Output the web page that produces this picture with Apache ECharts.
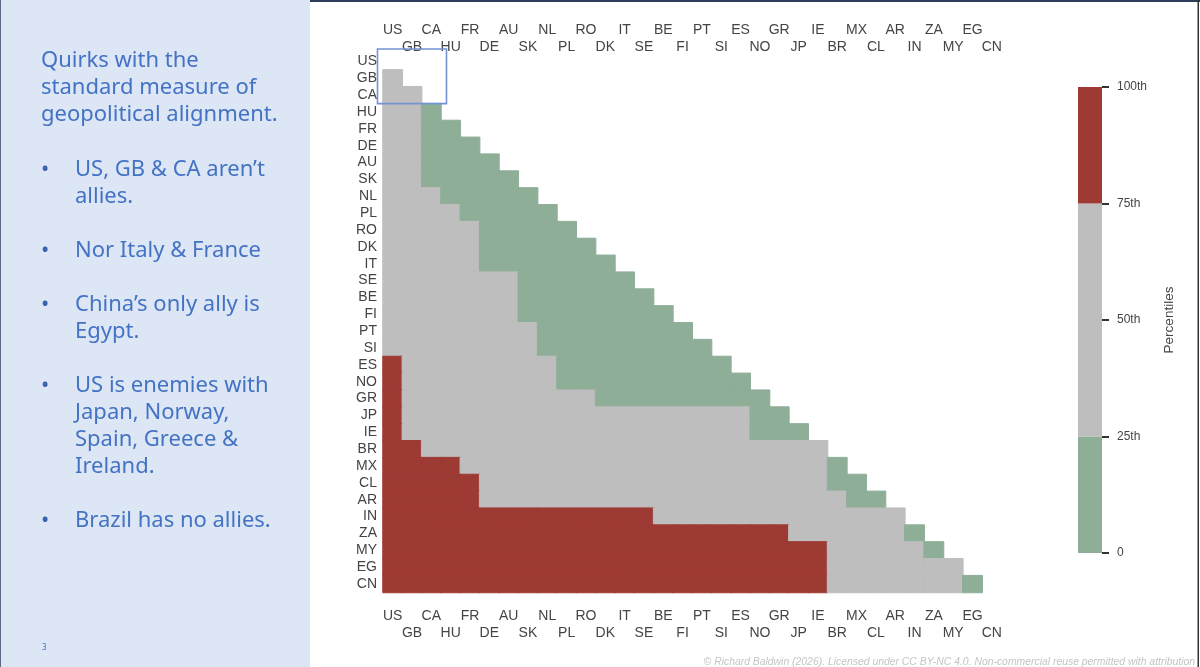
<!DOCTYPE html>
<html>
<head>
<meta charset="utf-8">
<script src="https://cdn.jsdelivr.net/npm/echarts@6/dist/echarts.min.js"></script>
<style>
  html, body { margin: 0; padding: 0; background: #ffffff; }
  #chart { width: 1200px; height: 667px; }
</style>
</head>
<body>
<div id="chart"></div>
<script>
// ---- DATA ----
const countries = ['US','GB','CA','HU','FR','DE','AU','SK','NL','PL','RO','DK','IT','SE','BE','FI',
                   'PT','SI','ES','NO','GR','JP','IE','BR','MX','CL','AR','IN','ZA','MY','EG','CN'];

// Percentile class per cell, row by row (lower triangle), as runs of [class, count]
// L = 0–25th (allies), M = 25–75th, H = 75–100th (adversaries)
const rowRuns = [
  [],                                   // US
  [['M',1]],                            // GB
  [['M',2]],                            // CA
  [['M',2],['L',1]],                    // HU
  [['M',2],['L',2]],                    // FR
  [['M',2],['L',3]],                    // DE
  [['M',2],['L',4]],                    // AU
  [['M',2],['L',5]],                    // SK
  [['M',3],['L',5]],                    // NL
  [['M',4],['L',5]],                    // PL
  [['M',5],['L',5]],                    // RO
  [['M',5],['L',6]],                    // DK
  [['M',5],['L',7]],                    // IT
  [['M',7],['L',6]],                    // SE
  [['M',7],['L',7]],                    // BE
  [['M',7],['L',8]],                    // FI
  [['M',8],['L',8]],                    // PT
  [['M',8],['L',9]],                    // SI
  [['H',1],['M',8],['L',9]],            // ES
  [['H',1],['M',8],['L',10]],           // NO
  [['H',1],['M',10],['L',9]],           // GR
  [['H',1],['M',18],['L',2]],           // JP
  [['H',1],['M',18],['L',3]],           // IE
  [['H',2],['M',21]],                   // BR
  [['H',4],['M',19],['L',1]],           // MX
  [['H',5],['M',18],['L',2]],           // CL
  [['H',5],['M',19],['L',2]],           // AR
  [['H',14],['M',13]],                  // IN
  [['H',21],['M',6],['L',1]],           // ZA
  [['H',23],['M',5],['L',1]],           // MY
  [['H',23],['M',7]],                   // EG
  [['H',23],['M',7],['L',1]]            // CN
];

const classOrder = ['L','M','H'];
const bandLow  = [0, 25, 75];
const bandHigh = [25, 75, 100];
const bandColors = ['#8fae98', '#bebebe', '#9e3a34'];
const legendTicks = [0, 25, 50, 75, 100];

const highlightGroup = ['US','GB','CA'];

const slideTitle = ['Quirks with the', 'standard measure of', 'geopolitical alignment.'];
const slideNotes = [
  ["US, GB & CA aren\u2019t", 'allies.'],
  ['Nor Italy & France'],
  ["China\u2019s only ally is", 'Egypt.'],
  ['US is enemies with', 'Japan, Norway,', 'Spain, Greece &', 'Ireland.'],
  ['Brazil has no allies.']
];
const pageNumber = '3';
const footerText = '\u00A9 Richard Baldwin (2026). Licensed under CC BY-NC 4.0. Non-commercial reuse permitted with attribution';

// ---- BUILD ----
const cells = [];
rowRuns.forEach((runs, r) => {
  let c = 0;
  runs.forEach(([cls, n]) => {
    const k = classOrder.indexOf(cls);
    for (let j = 0; j < n; j++) {
      cells.push({ value: [c, r, k], itemStyle: { borderColor: bandColors[k], borderWidth: 1 } });
      c++;
    }
  });
});

const textBlue = '#4472c4';
const slideFont = '"Noto Sans", "Open Sans", sans-serif';
const graphics = [
  { type: 'rect', shape: { x: 0, y: 0, width: 310, height: 667 }, style: { fill: '#dce6f4' }, z: 0 },
  { type: 'rect', shape: { x: 310, y: 0, width: 890, height: 2 }, style: { fill: '#2e3d5c' }, z: 0 },
  { type: 'rect', shape: { x: 0, y: 0, width: 1, height: 667 }, style: { fill: '#5a6a86' }, z: 0 },
  { type: 'rect', shape: { x: 1197.5, y: 0, width: 1.5, height: 667 }, style: { fill: '#333333' }, z: 0 }
];
const lineH = 27;
const bodyFont = '22px ' + slideFont;
slideTitle.forEach((t, i) => {
  graphics.push({ type: 'text', x: 41, y: 61 + i * lineH,
    style: { text: t, fill: textBlue, font: bodyFont, verticalAlign: 'middle', align: 'left' } });
});
let yy = 61 + (slideTitle.length - 1) * lineH + 55;
slideNotes.forEach((lines) => {
  graphics.push({ type: 'text', x: 41, y: yy,
    style: { text: '\u2022', fill: '#3d62b0', font: '22px ' + slideFont, verticalAlign: 'middle', align: 'left' } });
  lines.forEach((t, i) => {
    graphics.push({ type: 'text', x: 75, y: yy + i * lineH,
      style: { text: t, fill: textBlue, font: bodyFont, verticalAlign: 'middle', align: 'left' } });
  });
  yy += (lines.length - 1) * lineH + 54;
});
graphics.push({ type: 'text', x: 42, y: 648,
  style: { text: pageNumber, fill: textBlue, font: '8px ' + slideFont, verticalAlign: 'middle' } });
graphics.push({ type: 'text', x: 1195, y: 662,
  style: { text: footerText, fill: '#c4c4c4', font: 'italic 10.4px "Liberation Sans", Arial, sans-serif', verticalAlign: 'middle', align: 'right' } });

const labelStyle = {
  color: '#444', fontSize: 14, fontFamily: '"Liberation Sans", Arial, sans-serif'
};
const staggerFormatter = (v, i) => (i % 2 === 0 ? v + '\n ' : ' \n' + v);

const chart = echarts.init(document.getElementById('chart'), null, { renderer: 'canvas' });
const option = {
  backgroundColor: '#ffffff',
  animation: false,
  grid: [
    { left: 383, top: 53, right: 198.5, bottom: 74.5, containLabel: false },
    { left: 1078, top: 87, width: 24, height: 466, containLabel: false }
  ],
  xAxis: [
    { type: 'category', gridIndex: 0, data: countries, position: 'top',
      axisLine: { show: false }, axisTick: { show: false }, splitLine: { show: false },
      axisLabel: Object.assign({ interval: 0, formatter: staggerFormatter, lineHeight: 17,
        verticalAlign: 'middle', margin: 14 }, labelStyle) },
    { type: 'category', gridIndex: 0, data: countries, position: 'bottom',
      axisLine: { show: false }, axisTick: { show: false }, splitLine: { show: false },
      axisLabel: Object.assign({ interval: 0, formatter: staggerFormatter, lineHeight: 17,
        verticalAlign: 'middle', margin: 32 }, labelStyle) },
    { type: 'category', gridIndex: 1, data: ['pct'], show: false }
  ],
  yAxis: [
    { type: 'category', gridIndex: 0, data: countries, inverse: true,
      axisLine: { show: false }, axisTick: { show: false }, splitLine: { show: false },
      axisLabel: Object.assign({ interval: 0, margin: 6 }, labelStyle) },
    { type: 'value', gridIndex: 1, position: 'right', min: 0, max: 100, interval: 25,
      axisLine: { show: false }, splitLine: { show: false },
      axisTick: { show: true, length: 7, lineStyle: { color: '#333', width: 2 } },
      axisLabel: { margin: 15, fontSize: 12, color: '#444', fontFamily: '"Liberation Sans", Arial, sans-serif',
        formatter: v => (legendTicks.indexOf(v) >= 0 ? (v === 0 ? '0' : v + 'th') : '') },
      name: 'Percentiles', nameLocation: 'middle', nameRotate: 90, nameGap: 60,
      nameTextStyle: { fontSize: 13.5, color: '#444', fontFamily: '"Liberation Sans", Arial, sans-serif' } }
  ],
  visualMap: {
    type: 'piecewise', show: false, seriesIndex: 0, dimension: 2,
    pieces: classOrder.map((c, i) => ({ value: i, color: bandColors[i] }))
  },
  series: [
    { type: 'heatmap', xAxisIndex: 0, yAxisIndex: 0, data: cells,
      emphasis: { disabled: true }, progressive: 0 }
  ].concat(bandLow.map((lo, i) => ({
    type: 'bar', xAxisIndex: 2, yAxisIndex: 1, stack: 'pct', barWidth: '100%',
    data: [bandHigh[i] - lo], itemStyle: { color: bandColors[i] }, silent: true
  }))),
  graphic: { elements: graphics }
};
chart.setOption(option);

// highlight box round the first group, positioned through the axes
const a = chart.convertToPixel({ gridIndex: 0 }, [highlightGroup[0], highlightGroup[0]]);
const b = chart.convertToPixel({ gridIndex: 0 }, [highlightGroup[highlightGroup.length - 1], highlightGroup[highlightGroup.length - 1]]);
const nSteps = highlightGroup.length - 1;
const cw = (b[0] - a[0]) / nSteps, ch = (b[1] - a[1]) / nSteps;
chart.setOption({ graphic: { elements: graphics.concat([{
  id: 'hlbox', type: 'rect', z: 100,
  shape: { x: a[0] - cw / 2 - 5.5, y: a[1] - ch / 2 - 4, width: (b[0] - a[0]) + cw + 11, height: (b[1] - a[1]) + ch + 4 },
  style: { fill: 'none', stroke: '#7393d4', lineWidth: 1.6 }
}]) } });
</script>
</body>
</html>
